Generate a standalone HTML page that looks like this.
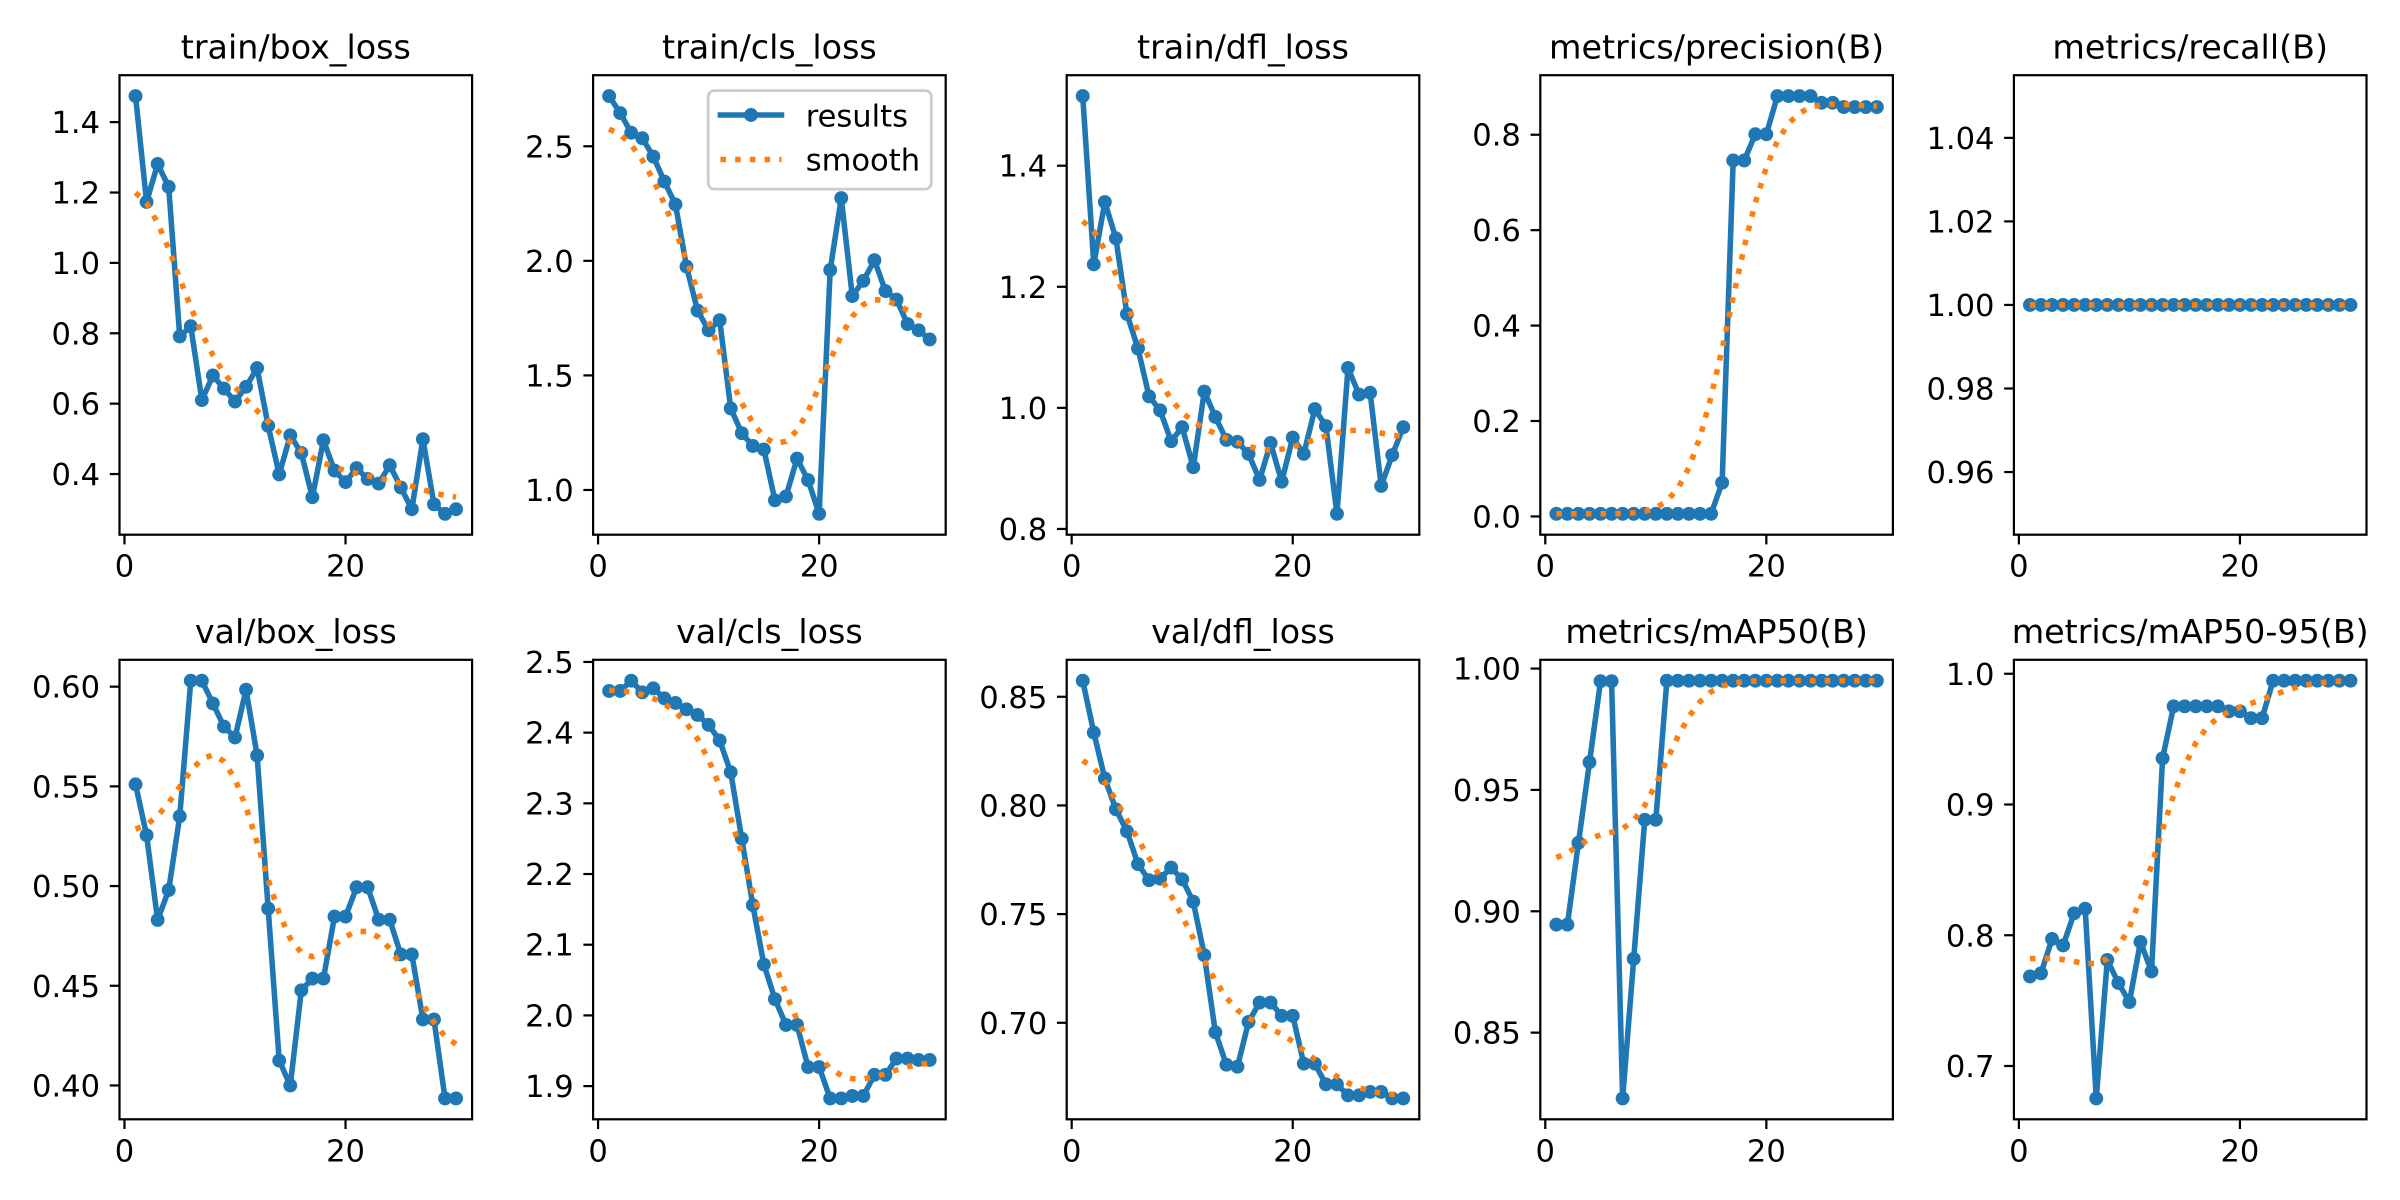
<!DOCTYPE html>
<html>
<head>
<meta charset="utf-8">
<style>
  html, body { margin: 0; padding: 0; background: #ffffff; }
  svg { display: block; }
  text { font-family: "DejaVu Sans", "Liberation Sans", sans-serif; fill: #000; }
  .title { font-size: 33.33px; text-anchor: middle; }
  .yt { font-size: 30.56px; text-anchor: end; }
  .xt { font-size: 30.56px; text-anchor: middle; }
  .lg { font-size: 30.56px; }
</style>
</head>
<body>
<svg id="fig" xmlns="http://www.w3.org/2000/svg" width="2400" height="1200" viewBox="0 0 2400 1200">
  <rect x="0" y="0" width="2400" height="1200" fill="#ffffff"/>
  <g id="data"></g>
  <g id="axes"></g>

  <g id="p0"><text class="title">train/box_loss</text>
    <text class="yt">0.4</text><text class="yt">0.6</text><text class="yt">0.8</text><text class="yt">1.0</text><text class="yt">1.2</text><text class="yt">1.4</text>
    <text class="xt">0</text><text class="xt">20</text></g>
  <g id="p1"><text class="title">train/cls_loss</text>
    <text class="yt">1.0</text><text class="yt">1.5</text><text class="yt">2.0</text><text class="yt">2.5</text>
    <text class="xt">0</text><text class="xt">20</text></g>
  <g id="p2"><text class="title">train/dfl_loss</text>
    <text class="yt">0.8</text><text class="yt">1.0</text><text class="yt">1.2</text><text class="yt">1.4</text>
    <text class="xt">0</text><text class="xt">20</text></g>
  <g id="p3"><text class="title">metrics/precision(B)</text>
    <text class="yt">0.0</text><text class="yt">0.2</text><text class="yt">0.4</text><text class="yt">0.6</text><text class="yt">0.8</text>
    <text class="xt">0</text><text class="xt">20</text></g>
  <g id="p4"><text class="title">metrics/recall(B)</text>
    <text class="yt">0.96</text><text class="yt">0.98</text><text class="yt">1.00</text><text class="yt">1.02</text><text class="yt">1.04</text>
    <text class="xt">0</text><text class="xt">20</text></g>
  <g id="p5"><text class="title">val/box_loss</text>
    <text class="yt">0.40</text><text class="yt">0.45</text><text class="yt">0.50</text><text class="yt">0.55</text><text class="yt">0.60</text>
    <text class="xt">0</text><text class="xt">20</text></g>
  <g id="p6"><text class="title">val/cls_loss</text>
    <text class="yt">1.9</text><text class="yt">2.0</text><text class="yt">2.1</text><text class="yt">2.2</text><text class="yt">2.3</text><text class="yt">2.4</text><text class="yt">2.5</text>
    <text class="xt">0</text><text class="xt">20</text></g>
  <g id="p7"><text class="title">val/dfl_loss</text>
    <text class="yt">0.70</text><text class="yt">0.75</text><text class="yt">0.80</text><text class="yt">0.85</text>
    <text class="xt">0</text><text class="xt">20</text></g>
  <g id="p8"><text class="title">metrics/mAP50(B)</text>
    <text class="yt">0.85</text><text class="yt">0.90</text><text class="yt">0.95</text><text class="yt">1.00</text>
    <text class="xt">0</text><text class="xt">20</text></g>
  <g id="p9"><text class="title">metrics/mAP50-95(B)</text>
    <text class="yt">0.7</text><text class="yt">0.8</text><text class="yt">0.9</text><text class="yt">1.0</text>
    <text class="xt">0</text><text class="xt">20</text></g>

  <!-- legend (panel 2) -->
  <g id="legend">
    <rect x="708.2" y="90.6" width="223.1" height="98.5" rx="6.1" ry="6.1" fill="#ffffff" fill-opacity="0.8" stroke="#cccccc" stroke-width="2.78"/>
    <line x1="720.4" y1="115" x2="781.5" y2="115" stroke="#1f77b4" stroke-width="5.56" stroke-linecap="square"/>
    <circle cx="751" cy="115" r="6.95" fill="#1f77b4"/>
    <text class="lg" x="805.7" y="126.5">results</text>
    <line x1="720.4" y1="159.5" x2="781.5" y2="159.5" stroke="#ff7f0e" stroke-width="5.56" stroke-dasharray="5.56 9.17" stroke-linecap="butt"/>
    <text class="lg" x="805.7" y="170.5">smooth</text>
  </g>
</svg>

<script>
(function(){
  var NS = "http://www.w3.org/2000/svg";
  var C0 = "#1f77b4", C1 = "#ff7f0e";
  var W = 352.6, H = 459.5;
  function rep(v, n){ var a=[]; for(var i=0;i<n;i++) a.push(v); return a; }
  var D = [
    [1.474,1.173,1.281,1.216,0.791,0.820,0.610,0.680,0.643,0.606,0.648,0.701,0.537,0.399,0.510,0.460,0.334,0.496,0.410,0.377,0.417,0.386,0.373,0.425,0.362,0.300,0.499,0.314,0.287,0.300],
    [2.719,2.645,2.559,2.535,2.455,2.346,2.246,1.975,1.783,1.697,1.741,1.356,1.248,1.192,1.177,0.955,0.972,1.137,1.043,0.896,1.960,2.274,1.846,1.913,2.003,1.868,1.831,1.724,1.697,1.657],
    [1.515,1.237,1.340,1.280,1.155,1.098,1.019,0.996,0.945,0.968,0.902,1.027,0.985,0.947,0.944,0.924,0.881,0.942,0.878,0.951,0.924,0.998,0.970,0.825,1.066,1.022,1.025,0.871,0.922,0.968],
    rep(0.0055,15).concat([0.0707,0.746,0.746,0.801,0.801,0.881,0.881,0.881,0.881,0.867,0.867,0.858,0.858,0.858,0.858]),
    rep(1.0,30),
    [0.551,0.5255,0.483,0.498,0.535,0.603,0.603,0.5916,0.580,0.5745,0.5985,0.5655,0.4887,0.4125,0.400,0.4477,0.4536,0.4536,0.4847,0.4847,0.4994,0.4994,0.4831,0.4831,0.4657,0.4657,0.4331,0.4331,0.3935,0.3935],
    [2.459,2.459,2.4735,2.457,2.4627,2.4486,2.442,2.433,2.425,2.411,2.389,2.344,2.250,2.156,2.072,2.023,1.9865,1.9865,1.927,1.927,1.8826,1.8826,1.886,1.886,1.916,1.916,1.939,1.939,1.937,1.937],
    [0.8574,0.8335,0.8124,0.7982,0.7881,0.773,0.7656,0.7663,0.7714,0.766,0.7557,0.7311,0.6956,0.6807,0.6798,0.7004,0.7093,0.7093,0.7032,0.7032,0.6812,0.6812,0.6717,0.6717,0.6666,0.6666,0.6682,0.6682,0.6652,0.6652],
    [0.8945,0.8945,0.9282,0.9614,0.9948,0.9948,0.8229,0.8804,0.9377,0.9377].concat(rep(0.995,20)),
    [0.7685,0.7709,0.7972,0.7922,0.8168,0.8203,0.6752,0.7811,0.7635,0.7489,0.7949,0.7723,0.9353,0.9751,0.9751,0.9751,0.9751,0.9751,0.9713,0.9713,0.966,0.966].concat(rep(0.9947,8))
  ];
  function gauss(y){
    var s=3, r=12, w=[], sum=0, k;
    for(k=-r;k<=r;k++){ var v=Math.exp(-0.5*k*k/(s*s)); w.push(v); sum+=v; }
    for(k=0;k<w.length;k++) w[k]/=sum;
    var n=y.length, out=[];
    for(var i=0;i<n;i++){
      var acc=0;
      for(k=-r;k<=r;k++){
        var j=i+k;
        while(j<0||j>=n){ if(j<0) j=-j-1; if(j>=n) j=2*n-j-1; }
        acc+=w[k+r]*y[j];
      }
      out.push(acc);
    }
    return out;
  }
  function el(name, attrs, parent){
    var e=document.createElementNS(NS,name);
    for(var a in attrs) e.setAttribute(a, attrs[a]);
    parent.appendChild(e); return e;
  }
  var gData=document.getElementById("data"), gAxes=document.getElementById("axes");
  for(var p=0;p<10;p++){
    var col=p%5, row=Math.floor(p/5);
    var L=119.5+473.6*col, T=(row===0)?75.2:659.8, B=T+H;
    var y=D[p], sm=gauss(y);
    var lo=Infinity, hi=-Infinity, i;
    for(i=0;i<30;i++){ lo=Math.min(lo,y[i],sm[i]); hi=Math.max(hi,y[i],sm[i]); }
    if(hi-lo<1e-9){ lo-=0.05*Math.abs(lo); hi+=0.05*Math.abs(hi); }
    var d=(hi-lo)*0.05; lo-=d; hi+=d;
    var sx=function(x){ return L+(x+0.45)/31.9*W; };
    var sy=function(v){ return T+(hi-v)/(hi-lo)*H; };
    var pts=[], spts=[];
    for(i=0;i<30;i++){ pts.push(sx(i+1).toFixed(2)+","+sy(y[i]).toFixed(2)); spts.push(sx(i+1).toFixed(2)+","+sy(sm[i]).toFixed(2)); }
    el("polyline",{points:pts.join(" "),fill:"none",stroke:C0,"stroke-width":5.56,"stroke-linejoin":"round","stroke-linecap":"square"},gData);
    for(i=0;i<30;i++) el("circle",{cx:sx(i+1).toFixed(2),cy:sy(y[i]).toFixed(2),r:6.95,fill:C0},gData);
    el("polyline",{points:spts.join(" "),fill:"none",stroke:C1,"stroke-width":5.56,"stroke-dasharray":"5.56 9.17","stroke-linecap":"butt","stroke-linejoin":"round"},gData);
    // spines
    el("rect",{x:L,y:T,width:W,height:H,fill:"none",stroke:"#000","stroke-width":2.22},gAxes);
    // labels
    var g=document.getElementById("p"+p);
    var tt=g.querySelector(".title");
    tt.setAttribute("x",(L+W/2).toFixed(2)); tt.setAttribute("y",(T-16.7).toFixed(2));
    var yts=g.querySelectorAll(".yt");
    for(i=0;i<yts.length;i++){
      var v=parseFloat(yts[i].textContent), ty=sy(v);
      yts[i].setAttribute("x",(L-19.44).toFixed(2)); yts[i].setAttribute("y",(ty+11).toFixed(2));
      el("line",{x1:L-9.72,y1:ty,x2:L,y2:ty,stroke:"#000","stroke-width":2.22},gAxes);
    }
    var xts=g.querySelectorAll(".xt");
    for(i=0;i<xts.length;i++){
      var xv=parseFloat(xts[i].textContent), tx=sx(xv);
      xts[i].setAttribute("x",tx.toFixed(2)); xts[i].setAttribute("y",(B+42).toFixed(2));
      el("line",{x1:tx,y1:B,x2:tx,y2:B+9.72,stroke:"#000","stroke-width":2.22},gAxes);
    }
  }
})();
</script>
</body>
</html>
